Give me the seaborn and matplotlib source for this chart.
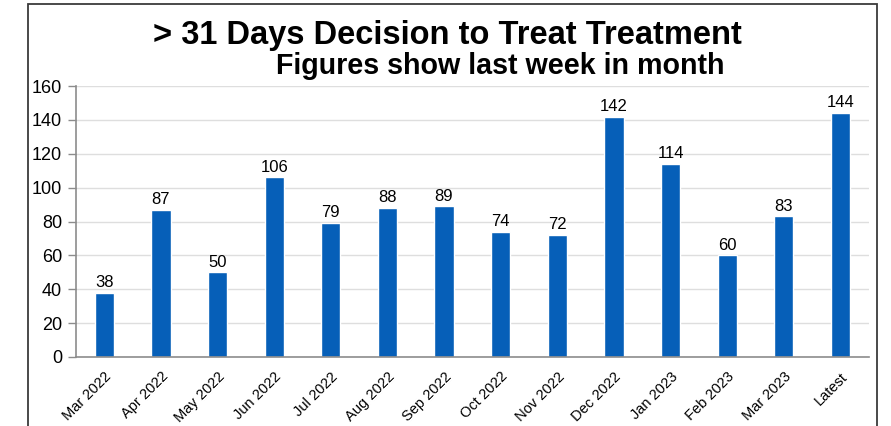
import matplotlib
matplotlib.use("Agg")
import matplotlib.pyplot as plt
from matplotlib.patches import Rectangle
import seaborn as sns
import pandas as pd

months = ["Mar 2022", "Apr 2022", "May 2022", "Jun 2022", "Jul 2022", "Aug 2022",
          "Sep 2022", "Oct 2022", "Nov 2022", "Dec 2022", "Jan 2023", "Feb 2023",
          "Mar 2023", "Latest"]
counts = [38, 87, 50, 106, 79, 88, 89, 74, 72, 142, 114, 60, 83, 144]
y_ticks = [0, 20, 40, 60, 80, 100, 120, 140, 160]

sns.set_theme(style="white")
plt.rcParams["font.family"] = ["Liberation Sans", "DejaVu Sans"]

df = pd.DataFrame({"month": months, "count": counts})

fig = plt.figure(figsize=(8.91, 4.26), dpi=100)
ax = fig.add_axes([0.0853, 0.162, 0.8897, 0.636])

sns.barplot(data=df, x="month", y="count", color="#065fb8", saturation=1,
            width=0.34, ax=ax)

ax.set_ylim(0, 160)
ax.set_yticks(y_ticks)
ax.set_yticklabels([str(v) for v in y_ticks], fontsize=13, color="black")
ax.yaxis.grid(True, color="#dedede", linewidth=1)
ax.set_axisbelow(True)
ax.tick_params(axis="y", which="both", left=True, length=6, width=1,
               color="#8c8c8c", pad=4)
ax.tick_params(axis="x", bottom=False, pad=3)
ax.set_xticks(range(len(months)))
ax.set_xticklabels(months, rotation=45, ha="right", rotation_mode="anchor",
                   fontsize=10.5, color="black")
ax.set_xlabel("")
ax.set_ylabel("")
ax.set_xlim(-0.5, len(months) - 0.5)

for side in ("top", "right"):
    ax.spines[side].set_visible(False)
for side in ("left", "bottom"):
    ax.spines[side].set_color("#8c8c8c")
    ax.spines[side].set_linewidth(1.2)

for c in ax.containers:
    ax.bar_label(c, labels=[str(v) for v in counts], padding=2, fontsize=12,
                 color="black")

fig.text(0.502, 0.916, "> 31 Days Decision to Treat Treatment", ha="center",
         va="center", fontsize=23.5, fontweight="bold", color="black")
fig.text(0.561, 0.845, "Figures show last week in month", ha="center",
         va="center", fontsize=20.6, fontweight="bold", color="black")

# outer frame around the chart area
fig.add_artist(Rectangle((0.0314, -0.05), 0.953, 1.04, transform=fig.transFigure,
                         fill=False, edgecolor="#3a3a3a", linewidth=1.3))

fig.savefig("out.png", dpi=100)
